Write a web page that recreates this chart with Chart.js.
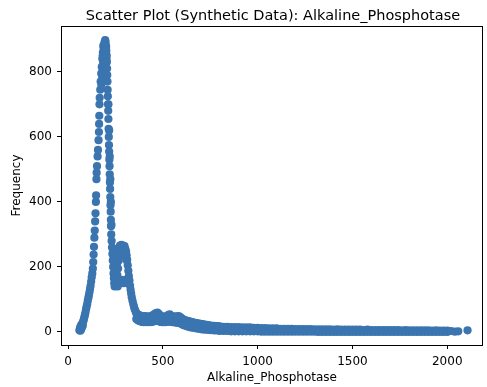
<!DOCTYPE html>
<html>
<head>
<meta charset="utf-8">
<script src="https://cdn.jsdelivr.net/npm/chart.js@4.4.1/dist/chart.umd.min.js"></script>
<style>
  html, body { margin: 0; padding: 0; background: #fff; }
  canvas { display: block; }
</style>
</head>
<body>
<canvas id="c" width="487" height="387"></canvas>
<script>
// ---- Data (Alkaline_Phosphotase value vs frequency) ----
const riseX = [60, 63, 65, 67, 69, 71, 73, 75, 78, 80, 83, 86, 89, 92, 95, 98, 101, 104, 107, 110, 113, 116, 119, 122, 125, 128, 131, 133, 135, 137, 139, 141, 143, 145, 147, 148, 150, 151, 153, 156, 158, 161, 163, 164, 165, 166, 167, 170, 172, 175, 178, 181, 184, 188, 192, 196];
const riseY = [5, 12, 4, 18, 8, 22, 14, 26, 20, 32, 38, 45, 52, 60, 70, 78, 85, 95, 104, 112, 122, 132, 142, 155, 168, 180, 195, 215, 238, 262, 290, 312, 340, 365, 400, 420, 470, 490, 510, 540, 560, 590, 615, 640, 665, 700, 720, 745, 770, 795, 815, 840, 860, 875, 890, 898];

const peakX = [180, 183, 186, 189, 192, 195, 198, 201, 185, 190, 194, 199, 203, 188, 196, 176, 182];
const peakY = [780, 850, 880, 870, 860, 885, 892, 878, 830, 845, 865, 855, 840, 805, 815, 760, 800];

const fallX = [200, 202, 204, 205, 206, 207, 208, 209, 210, 211, 212, 213, 214, 215, 216, 217, 218, 219, 220, 221, 222, 223, 224, 225, 226, 227, 228, 230, 232, 234, 236, 238, 240, 242, 244, 246, 213, 217, 220, 223, 226, 229];
const fallY = [880, 865, 850, 830, 810, 790, 770, 745, 725, 700, 680, 655, 625, 600, 575, 555, 530, 510, 485, 460, 440, 415, 390, 370, 345, 325, 300, 280, 260, 240, 220, 200, 180, 165, 150, 140, 700, 620, 540, 470, 400, 330];

const bumpX = [248, 250, 252, 255, 258, 261, 264, 267, 270, 274, 278, 282, 286, 290, 294, 298, 302, 306, 309, 312, 315, 318, 321, 324, 327, 330, 333, 336, 340, 344, 348, 352, 357, 256, 260, 264, 268, 272, 276, 262, 272, 282, 292, 302, 312, 280, 290, 300, 310];
const bumpY = [150, 165, 180, 195, 210, 225, 240, 252, 260, 266, 260, 268, 262, 266, 258, 264, 256, 248, 236, 222, 205, 188, 172, 158, 143, 130, 118, 107, 96, 86, 78, 70, 63, 160, 175, 195, 220, 240, 245, 140, 150, 160, 150, 160, 150, 235, 238, 235, 220];

const shoulderX = [360, 368, 376, 384, 392, 400, 408, 416, 424, 432, 440, 448, 456, 464, 472, 480, 488, 496, 504, 512, 520, 528, 536, 544, 552, 560, 568, 576, 584, 592, 600, 610, 620, 630, 640, 650, 660, 670, 680, 690, 700, 710, 720, 730, 740, 750, 760, 770, 780, 790];
const shoulderHigh = [58, 54, 52, 50, 48, 47, 49, 46, 48, 46, 49, 52, 55, 58, 60, 55, 50, 48, 47, 46, 48, 52, 54, 50, 48, 46, 48, 47, 49, 46, 42, 38, 36, 34, 33, 31, 30, 28, 27, 26, 25, 24, 23, 22, 21, 20, 19, 19, 18, 18];
const shoulderLow = [40, 36, 34, 32, 31, 30, 31, 30, 32, 30, 31, 32, 33, 34, 36, 33, 31, 30, 31, 30, 31, 32, 33, 31, 30, 30, 29, 29, 28, 27, 24, 21, 19, 17, 15, 14, 13, 12, 11, 10, 9, 8, 8, 7, 7, 6, 6, 5, 5, 5];

const tailX = [800, 820, 840, 860, 880, 900, 920, 940, 960, 980, 1000, 1020, 1040, 1060, 1080, 1100, 1120, 1140, 1160, 1180, 1200, 1220, 1240, 1260, 1280, 1300, 1320, 1340, 1360, 1380, 1400, 1420, 1440, 1460, 1480, 1500, 1520, 1540, 1560, 1580, 1600, 1620, 1640, 1660, 1680, 1700, 1720, 1740, 1760, 1780, 1800, 1820, 1840, 1860, 1880, 1900, 1920, 1940, 1960, 1980, 2000];
const tailHigh = [17, 16, 16, 15, 15, 15, 14, 14, 14, 13, 13, 12, 12, 11, 11, 11, 10, 10, 10, 10, 9, 9, 9, 9, 9, 8, 8, 8, 8, 8, 7, 8, 7, 7, 7, 7, 7, 7, 6, 7, 6, 6, 6, 6, 6, 6, 6, 6, 5, 6, 5, 5, 5, 5, 5, 5, 4, 5, 4, 4, 4];
const tailLow = [3, 3, 3, 2, 2, 2, 2, 2, 2, 2, 2, 1, 1, 1, 1, 1, 1, 1, 1, 1, 1, 1, 1, 1, 1, 1, 0, 0, 0, 0, 0, 0, 0, 0, 0, 0, 0, 0, 0, 0, 0, 0, 0, 0, 0, 0, 0, 0, 0, 0, 0, 0, 0, 0, 0, 0, 0, 0, 0, 0, 0];

const endX = [2020, 2040, 2058, 2107];
const endY = [3, 1, 2, 5];

const xTicks = [0, 500, 1000, 1500, 2000];
const yTicks = [0, 200, 400, 600, 800];

const titleText = 'Scatter Plot (Synthetic Data): Alkaline_Phosphotase';
const xLabel = 'Alkaline_Phosphotase';
const yLabel = 'Frequency';

// ---- Build the point list ----
const allX = [].concat(riseX, peakX, fallX, bumpX, shoulderX, shoulderX, tailX, tailX, endX);
const allY = [].concat(riseY, peakY, fallY, bumpY, shoulderHigh, shoulderLow, tailHigh, tailLow, endY);
const points = allX.map((x, i) => ({ x: x, y: allY[i] }));

const FONT = 'DejaVu Sans';
const markerColor = '#3a75b0';

const framePlugin = {
  id: 'frame',
  afterDatasetsDraw(chart) {
    const { ctx, chartArea: a } = chart;
    ctx.save();
    ctx.strokeStyle = '#000';
    ctx.lineWidth = 1;
    ctx.strokeRect(Math.round(a.left) + 0.5, Math.round(a.top) + 0.5,
                   Math.round(a.right - a.left) - 1, Math.round(a.bottom - a.top));
    ctx.restore();
  }
};

const titlePlugin = {
  id: 'mtitle',
  afterDraw(chart) {
    const { ctx, chartArea: a } = chart;
    ctx.save();
    ctx.fillStyle = '#000';
    ctx.font = '14.5px "' + FONT + '"';
    ctx.textAlign = 'center';
    ctx.textBaseline = 'alphabetic';
    ctx.fillText(titleText, (a.left + a.right) / 2 + 1, 20);
    ctx.restore();
  }
};

new Chart(document.getElementById('c'), {
  type: 'scatter',
  data: {
    datasets: [{
      data: points,
      backgroundColor: markerColor,
      borderColor: markerColor,
      borderWidth: 0,
      pointRadius: 4.1,
      pointHoverRadius: 4.1
    }]
  },
  options: {
    responsive: false,
    animation: false,
    devicePixelRatio: 1,
    layout: { padding: { top: 26, right: 3, left: 0, bottom: 0 } },
    plugins: {
      legend: { display: false },
      tooltip: { enabled: false },
      title: { display: false }
    },
    scales: {
      x: {
        type: 'linear',
        min: -37,
        max: 2188,
        afterBuildTicks: s => { s.ticks = xTicks.map(v => ({ value: v })); },
        afterFit: s => { s.height = 42; },
        grid: { drawOnChartArea: false, drawTicks: true, tickLength: 4, color: '#000', tickColor: '#000' },
        border: { display: false },
        ticks: { color: '#000', font: { family: FONT, size: 12 }, padding: 6, maxRotation: 0, callback: v => String(v) },
        title: { display: true, text: xLabel, color: '#000', font: { family: FONT, size: 12 }, padding: { top: 0, bottom: 2 } }
      },
      y: {
        type: 'linear',
        min: -40,
        max: 941,
        afterBuildTicks: s => { s.ticks = yTicks.map(v => ({ value: v })); },
        afterFit: s => { s.width = 61; },
        grid: { drawOnChartArea: false, drawTicks: true, tickLength: 4, color: '#000', tickColor: '#000' },
        border: { display: false },
        ticks: { color: '#000', font: { family: FONT, size: 12 }, padding: 5, callback: v => String(v) },
        title: { display: true, text: yLabel, color: '#000', font: { family: FONT, size: 12 }, padding: { top: 10, bottom: 0 } }
      }
    }
  },
  plugins: [framePlugin, titlePlugin]
});
</script>
</body>
</html>
